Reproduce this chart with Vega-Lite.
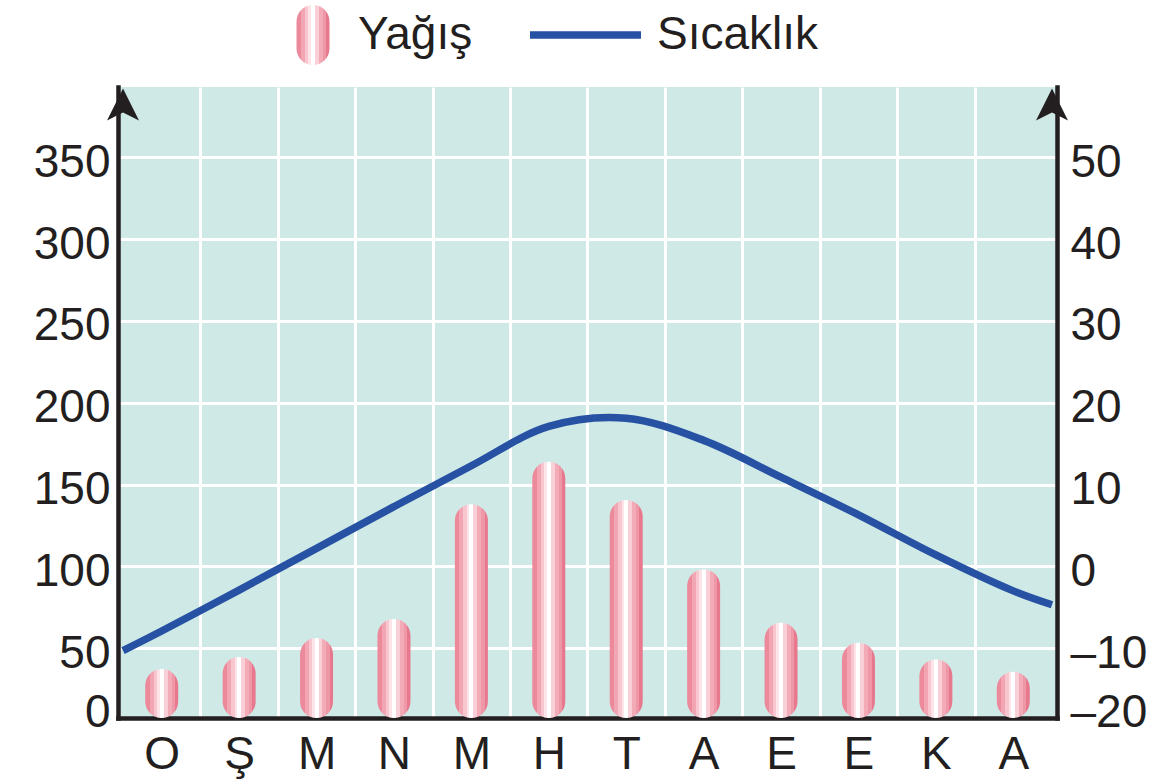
{
  "$schema": "https://vega.github.io/schema/vega-lite/v6.json",
  "width": 939,
  "height": 631,
  "autosize": "none",
  "padding": {"left": 118, "top": 87, "right": 102, "bottom": 62},
  "background": "white",
  "config": {
    "view": {"fill": "#cfe9e6", "stroke": null},
    "font": "Liberation Sans",
    "axis": {
      "domainColor": "#231f20",
      "domainWidth": 4.5,
      "domainCap": "square",
      "ticks": false,
      "tickSize": 0,
      "labelFont": "Liberation Sans",
      "labelFontSize": 46,
      "labelColor": "#231f20",
      "gridColor": "#ffffff",
      "gridWidth": 3,
      "labelOverlap": false,
      "labelFlush": false,
      "title": null
    },
    "axisBottom": {"labelPadding": 14},
    "axisLeft": {"labelPadding": 8, "labelOffset": 5},
    "axisRight": {"labelPadding": 13, "labelOffset": 5}
  },
  "datasets": {
    "rain": [
      {"month": "O", "x": 0.5, "rain": 37.3},
      {"month": "Ş", "x": 1.5, "rain": 44.6},
      {"month": "M", "x": 2.5, "rain": 56.2},
      {"month": "N", "x": 3.5, "rain": 67.8},
      {"month": "M", "x": 4.5, "rain": 138},
      {"month": "H", "x": 5.5, "rain": 164},
      {"month": "T", "x": 6.5, "rain": 140.6},
      {"month": "A", "x": 7.5, "rain": 98},
      {"month": "E", "x": 8.5, "rain": 65.5},
      {"month": "E", "x": 9.5, "rain": 53.3},
      {"month": "K", "x": 10.5, "rain": 43},
      {"month": "A", "x": 11.5, "rain": 35.5}
    ],
    "temp": [
      {"x": 0, "temp": -10.3},
      {"x": 0.5, "temp": -7.9},
      {"x": 1.5, "temp": -2.9},
      {"x": 2.5, "temp": 2.2},
      {"x": 3.5, "temp": 7.3},
      {"x": 4.5, "temp": 12.3},
      {"x": 5.5, "temp": 17.1},
      {"x": 6.5, "temp": 18.1},
      {"x": 7.5, "temp": 15.4},
      {"x": 8.5, "temp": 10.9},
      {"x": 9.5, "temp": 6.3},
      {"x": 10.5, "temp": 1.4},
      {"x": 11.5, "temp": -3.0},
      {"x": 12, "temp": -4.7}
    ],
    "arrows": [
      {"x": 0, "y": 382.3},
      {"x": 12, "y": 382.3}
    ]
  },
  "layer": [
    {
      "data": {"name": "rain"},
      "mark": {
        "type": "bar",
        "width": 33,
        "cornerRadius": 16.5,
        "stroke": null,
        "fill": {
          "gradient": "linear", "x1": 0, "y1": 0, "x2": 1, "y2": 0,
          "stops": [
            {"offset": 0, "color": "#ec8a9c"}, {"offset": 0.14, "color": "#ec8a9c"},
            {"offset": 0.14, "color": "#f2a6b3"}, {"offset": 0.26, "color": "#f2a6b3"},
            {"offset": 0.26, "color": "#f8c6ce"}, {"offset": 0.36, "color": "#f8c6ce"},
            {"offset": 0.36, "color": "#fde4e8"}, {"offset": 0.44, "color": "#fde4e8"},
            {"offset": 0.44, "color": "#ffffff"}, {"offset": 0.56, "color": "#ffffff"},
            {"offset": 0.56, "color": "#f9d0d7"}, {"offset": 0.68, "color": "#f9d0d7"},
            {"offset": 0.68, "color": "#f3abb7"}, {"offset": 0.8, "color": "#f3abb7"},
            {"offset": 0.8, "color": "#ee97a7"}, {"offset": 0.9, "color": "#ee97a7"},
            {"offset": 0.9, "color": "#e7788d"}, {"offset": 1, "color": "#e7788d"}
          ]
        }
      },
      "encoding": {
        "x": {
          "field": "x",
          "type": "quantitative",
          "scale": {"domain": [0, 12], "nice": false, "zero": false},
          "axis": {
            "orient": "bottom",
            "values": [0.5, 1, 1.5, 2, 2.5, 3, 3.5, 4, 4.5, 5, 5.5, 6, 6.5, 7, 7.5, 8, 8.5, 9, 9.5, 10, 10.5, 11, 11.5],
            "grid": true,
            "gridOpacity": {"condition": {"test": "datum.value % 1 === 0", "value": 1}, "value": 0},
            "labelExpr": "datum.value % 1 === 0 ? '' : ['O','Ş','M','N','M','H','T','A','E','E','K','A'][floor(datum.value)]",
            "title": null
          }
        },
        "y": {
          "field": "rain",
          "type": "quantitative",
          "scale": {"domain": [7.3, 393], "nice": false, "zero": false},
          "axis": {
            "orient": "left",
            "values": [13.5, 50, 100, 150, 200, 250, 300, 350],
            "grid": true,
            "gridOpacity": {"condition": {"test": "datum.value < 20", "value": 0}, "value": 1},
            "labelExpr": "datum.value < 20 ? '0' : '' + datum.value",
            "title": null
          }
        },
        "y2": {"datum": 7.3},
        "opacity": {
          "datum": "Yağış",
          "type": "nominal",
          "scale": {"range": [1, 1]},
          "legend": {
            "orient": "none",
            "legendX": 165,
            "legendY": -82,
            "direction": "horizontal",
            "title": null,
            "padding": 0,
            "symbolType": "M -0.55 -0.45 A 0.55 0.55 0 0 1 0.55 -0.45 L 0.55 0.45 A 0.55 0.55 0 0 1 -0.55 0.45 Z",
            "symbolSize": 3600,
            "symbolStrokeWidth": 0,
            "labelFont": "Liberation Sans",
            "labelFontSize": 46,
            "labelColor": "#231f20",
            "labelOffset": 15,
            "labelLimit": 400,
            "encode": {
              "symbols": {
                "update": {
                  "opacity": {"value": 1},
                  "fill": {"value": {
                    "gradient": "linear", "x1": 0, "y1": 0, "x2": 1, "y2": 0,
                    "stops": [
                      {"offset": 0, "color": "#ec8a9c"}, {"offset": 0.14, "color": "#ec8a9c"},
                      {"offset": 0.14, "color": "#f2a6b3"}, {"offset": 0.26, "color": "#f2a6b3"},
                      {"offset": 0.26, "color": "#f8c6ce"}, {"offset": 0.36, "color": "#f8c6ce"},
                      {"offset": 0.36, "color": "#fde4e8"}, {"offset": 0.44, "color": "#fde4e8"},
                      {"offset": 0.44, "color": "#ffffff"}, {"offset": 0.56, "color": "#ffffff"},
                      {"offset": 0.56, "color": "#f9d0d7"}, {"offset": 0.68, "color": "#f9d0d7"},
                      {"offset": 0.68, "color": "#f3abb7"}, {"offset": 0.8, "color": "#f3abb7"},
                      {"offset": 0.8, "color": "#ee97a7"}, {"offset": 0.9, "color": "#ee97a7"},
                      {"offset": 0.9, "color": "#e7788d"}, {"offset": 1, "color": "#e7788d"}
                    ]
                  }}
                }
              }
            }
          }
        }
      }
    },
    {
      "data": {"name": "temp"},
      "mark": {"type": "line", "interpolate": "catmull-rom", "strokeWidth": 7.5, "strokeCap": "butt", "clip": true},
      "encoding": {
        "x": {"field": "x", "type": "quantitative"},
        "y": {
          "field": "temp",
          "type": "quantitative",
          "scale": {"domain": [-18.54, 58.6], "nice": false, "zero": false},
          "axis": {
            "orient": "right",
            "values": [-17.2, -10, 0, 10, 20, 30, 40, 50],
            "grid": false,
            "labelExpr": "datum.value < -15 ? '–20' : (datum.value < 0 ? '–' + abs(datum.value) : '' + datum.value)",
            "title": null
          }
        },
        "color": {
          "datum": "Sıcaklık",
          "type": "nominal",
          "scale": {"range": ["#2752a3"]},
          "legend": {
            "orient": "none",
            "legendX": 408,
            "legendY": -111.5,
            "direction": "horizontal",
            "title": null,
            "padding": 0,
            "symbolType": "stroke",
            "symbolSize": 12321,
            "symbolStrokeWidth": 7.5,
            "labelFont": "Liberation Sans",
            "labelFontSize": 46,
            "labelColor": "#231f20",
            "labelOffset": 12,
            "labelLimit": 400
          }
        }
      }
    },
    {
      "data": {"name": "arrows"},
      "mark": {"type": "point", "shape": "M 0 -1 L 1 1 L 0 0.5 L -1 1 Z", "size": 1024, "filled": true, "fill": "#231f20", "opacity": 1, "strokeWidth": 0},
      "encoding": {
        "x": {"field": "x", "type": "quantitative"},
        "y": {"field": "y", "type": "quantitative", "scale": {"domain": [7.3, 393], "nice": false, "zero": false}, "axis": null}
      }
    }
  ],
  "resolve": {"scale": {"y": "independent"}}
}
